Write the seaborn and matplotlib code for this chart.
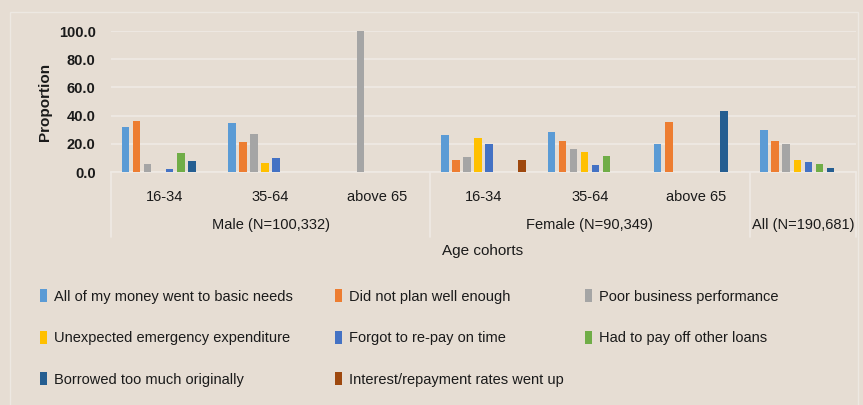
import matplotlib
matplotlib.use("Agg")
import matplotlib.pyplot as plt
import matplotlib.transforms as mtransforms
from matplotlib.patches import Rectangle, Patch
import seaborn as sns
import pandas as pd

# ---- data ----
categories = ["M 16-34", "M 35-64", "M above 65", "F 16-34", "F 35-64", "F above 65", "All"]
age_labels = ["16-34", "35-64", "above 65", "16-34", "35-64", "above 65", ""]
group_labels = ["Male (N=100,332)", "Female (N=90,349)", "All (N=190,681)"]
reasons = ["All of my money went to basic needs", "Did not plan well enough",
           "Poor business performance", "Unexpected emergency expenditure",
           "Forgot to re-pay on time", "Had to pay off other loans",
           "Borrowed too much originally", "Interest/repayment rates went up"]
basic_needs = [31.6, 34.4, 0.0, 25.9, 28.7, 20.0, 29.7]
not_plan = [36.3, 21.0, 0.0, 8.7, 22.1, 35.4, 22.1]
poor_business = [5.9, 26.9, 100.0, 10.6, 16.3, 0.0, 20.0]
emergency = [0.0, 6.6, 0.0, 24.1, 14.4, 0.0, 8.7]
forgot = [1.9, 9.6, 0.0, 20.0, 4.9, 0.0, 6.8]
other_loans = [13.7, 0.0, 0.0, 0.0, 11.5, 0.0, 5.9]
borrowed_much = [7.8, 0.0, 0.0, 0.0, 0.0, 43.2, 3.0]
interest_up = [0.0, 0.0, 0.0, 8.7, 0.0, 0.0, 0.0]
series = [basic_needs, not_plan, poor_business, emergency, forgot, other_loans,
          borrowed_much, interest_up]
colors = ["#5B9BD5", "#ED7D31", "#A5A5A5", "#FFC000", "#4472C4", "#70AD47",
          "#255E91", "#9E480E"]

rows = []
for r, vals in zip(reasons, series):
    for c, v in zip(categories, vals):
        rows.append({"cat": c, "reason": r, "value": v})
df = pd.DataFrame(rows)

# ---- style ----
BG = "#E6DDD3"
GRID = "#EFEAE4"
TXT = "#1a1a1a"
sns.set_theme(style="white")
plt.rcParams["font.family"] = ["Liberation Sans Narrow", "Liberation Sans", "DejaVu Sans"]

fig = plt.figure(figsize=(8.63, 4.05), dpi=100, facecolor=BG)
W, H = 863, 405
ax = fig.add_axes([111 / W, 1 - 172 / H, (856 - 111) / W, (172 - 31) / H])
ax.set_facecolor(BG)

# chart-area border
fig.patches.append(Rectangle((10 / W, -0.05), (858 - 10) / W, 1.05 - 12 / H,
                             transform=fig.transFigure, fill=False,
                             edgecolor="#EDE8E2", lw=1.0))

sns.barplot(data=df, x="cat", y="value", hue="reason", order=categories,
            hue_order=reasons, palette=colors, width=0.83, gap=0.32,
            saturation=1, legend=False, ax=ax, zorder=3, linewidth=0)
for p in ax.patches:
    p.set_clip_on(False)
    p.set_linewidth(0)

ax.set_ylim(0, 100)
ax.set_xlim(-0.5, len(categories) - 0.5)
ax.set_yticks([0, 20, 40, 60, 80, 100])
ax.set_yticklabels([f"{v:.1f}" for v in [0, 20, 40, 60, 80, 100]],
                   fontsize=10.5, fontweight="bold", color=TXT)
ax.yaxis.grid(True, color=GRID, lw=1.2, zorder=0)
ax.set_axisbelow(True)
for s in ["top", "right", "left"]:
    ax.spines[s].set_visible(False)
ax.spines["bottom"].set_color(GRID)
ax.spines["bottom"].set_linewidth(1.2)
ax.tick_params(axis="y", length=0, pad=11)
ax.tick_params(axis="x", length=0, pad=13)
ax.set_xticks(range(len(categories)))
ax.set_xticklabels(age_labels, fontsize=10.5, color=TXT)
ax.set_xlabel("")
ax.set_ylabel("Proportion", fontsize=11, fontweight="bold", color=TXT, labelpad=5)

# group labels and separators
trans = mtransforms.blended_transform_factory(ax.transData, ax.transAxes)
ax_h = 172 - 31
group_centers = [1.0, 4.0, 6.0]
for gx, gl in zip(group_centers, group_labels):
    ax.text(gx, -(225 - 172) / ax_h, gl, transform=trans, ha="center", va="center",
            fontsize=10.5, color=TXT)
for sx in [-0.5, 2.5, 5.5, 6.5]:
    ax.plot([sx, sx], [0, -(237 - 172) / ax_h], transform=trans, color=GRID,
            lw=1.2, clip_on=False)
fig.text(483 / W, 1 - 251 / H, "Age cohorts", ha="center",
         va="center", fontsize=11, color=TXT)

# legend: three columns
col_x = [40 / W, 335 / W, 585 / W]
for ci in range(3):
    idx = [i for i in range(len(reasons)) if i % 3 == ci]
    handles = [Patch(facecolor=colors[i], edgecolor="none") for i in idx]
    labels = [reasons[i] for i in idx]
    leg = fig.legend(handles, labels, loc="upper left",
                     bbox_to_anchor=(col_x[ci], 1 - 289 / H),
                     frameon=False, fontsize=10.5, handlelength=0.45,
                     handleheight=1.0, handletextpad=0.5, labelspacing=1.85,
                     borderpad=0, borderaxespad=0)
    for t in leg.get_texts():
        t.set_color(TXT)

fig.savefig("out.png", dpi=100, facecolor=BG)
